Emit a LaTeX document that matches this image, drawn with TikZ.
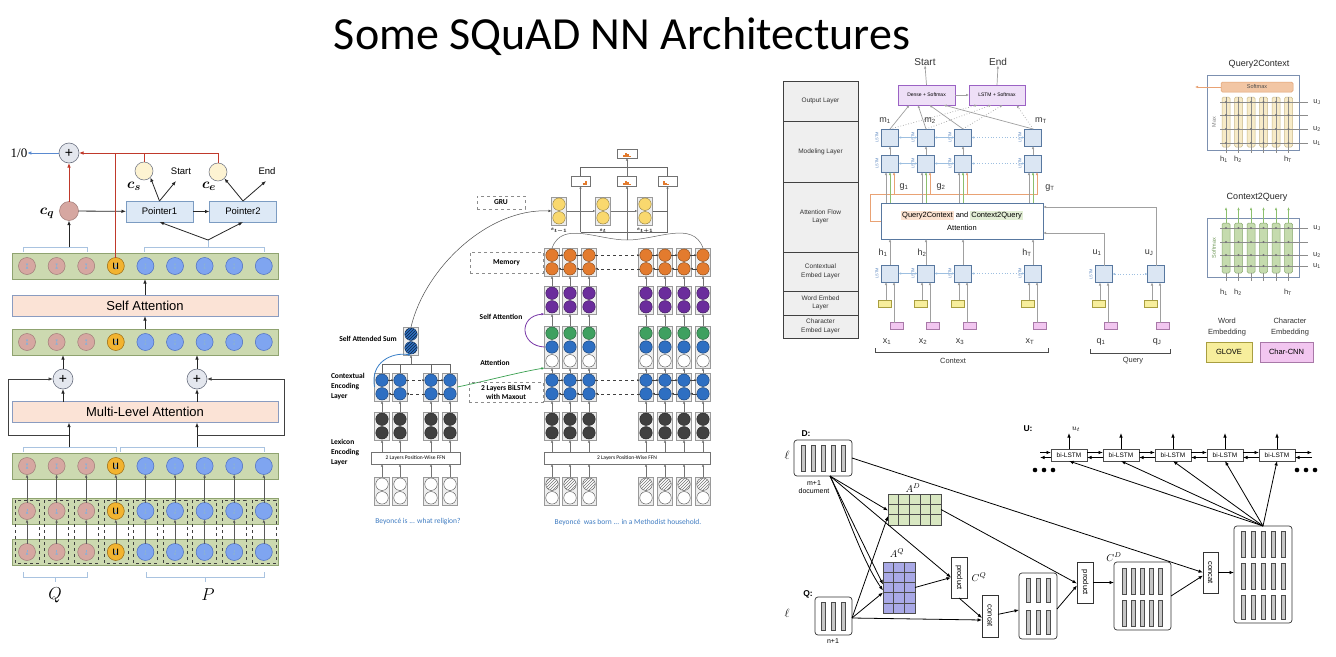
\documentclass[tikz,border=0pt]{standalone}
\usepackage{fontspec}
\usepackage{amsmath}
\usetikzlibrary{arrows.meta,patterns,calc}
\newfontfamily\arialf{Liberation Sans}
\newfontfamily\calibf{Carlito}
\newfontfamily\timesf{Liberation Serif}
\newcommand\fsz[2]{\fontsize{#1}{#2}\selectfont}

% pointer-network reader
\definecolor{stripfill}{HTML}{CCD9B0}
\definecolor{stripdraw}{HTML}{8FA370}
\definecolor{pinkc}{HTML}{D6A7A1}
\definecolor{pinkd}{HTML}{A07C78}
\definecolor{bluec}{HTML}{7FA5F0}
\definecolor{blued}{HTML}{4C6CC0}
\definecolor{uc}{HTML}{F2B32F}
\definecolor{ud}{HTML}{9A6A10}
\definecolor{peach}{HTML}{FBE3D6}
\definecolor{peachd}{HTML}{8A9CC0}
\definecolor{ptrfill}{HTML}{DDE9F6}
\definecolor{ptrdraw}{HTML}{7C9CC2}
\definecolor{redl}{HTML}{C0392B}
\definecolor{lblue}{HTML}{8AB0D8}
\definecolor{brk}{HTML}{A9C3E0}
\definecolor{cream}{HTML}{FDF3D2}
\definecolor{plusfill}{HTML}{E4E7EE}
\definecolor{plusdraw}{HTML}{6A7080}
\definecolor{outblue}{HTML}{5A8AD0}
% stochastic answer network
\definecolor{cellfill}{HTML}{EDEDED}
\definecolor{celldraw}{HTML}{9A9A9A}
\definecolor{sblue}{HTML}{2E6FC2}
\definecolor{sdark}{HTML}{404040}
\definecolor{sgreen}{HTML}{3FA060}
\definecolor{spurple}{HTML}{6B2D9C}
\definecolor{sorange}{HTML}{E37B2E}
\definecolor{syellow}{HTML}{F9D86E}
\definecolor{stext}{HTML}{3F7CC2}
\definecolor{scurveblue}{HTML}{3A80C8}
\definecolor{scurvegreen}{HTML}{3AA050}
\definecolor{scurvepurple}{HTML}{7A3AA8}
% bidirectional attention flow
\definecolor{layfill}{HTML}{EFEFEF}
\definecolor{lstmfill}{HTML}{DBE6F3}
\definecolor{lstmdraw}{HTML}{5878A0}
\definecolor{arrgray}{HTML}{A0A0A0}
\definecolor{bluearr}{HTML}{9DBFE0}
\definecolor{orangel}{HTML}{E9A274}
\definecolor{greenl}{HTML}{8CBF6E}
\definecolor{purfill}{HTML}{EEDFF7}
\definecolor{purdraw}{HTML}{9B62C4}
\definecolor{bluelab}{HTML}{5A86C0}
\definecolor{q2chl}{HTML}{FBE1CF}
\definecolor{c2qhl}{HTML}{E2EED5}
\definecolor{q2ccol}{HTML}{F7EBC8}
\definecolor{q2ccold}{HTML}{C8B888}
\definecolor{c2qcol}{HTML}{C5DBAE}
\definecolor{c2qcold}{HTML}{8AAA70}
\definecolor{qbord}{HTML}{7C90B0}
\definecolor{smxfill}{HTML}{F2C6A4}
\definecolor{smxdraw}{HTML}{E0A070}
\definecolor{glovefill}{HTML}{F7EE9C}
\definecolor{glovedraw}{HTML}{A89E40}
\definecolor{charfill}{HTML}{F2C6F0}
\definecolor{chardraw}{HTML}{A878A8}
% coattention encoder
\definecolor{adfill}{HTML}{D9E8C2}
\definecolor{aqfill}{HTML}{A9A9E6}

\newcommand\twocell[5]{%
  \node[cellbox=28pt] (#1) at (#2,#3+14) {};
  \node[#4] (#1a) at (#2,#3+7.2) {};
  \node[#5] (#1b) at (#2,#3+20.8) {};
}
\newcommand\threecell[6]{%
  \node[cellbox=42pt] (#1) at (#2,#3+21) {};
  \node[#4] (#1a) at (#2,#3+7.2) {};
  \node[#5] (#1b) at (#2,#3+21) {};
  \node[#6] (#1c) at (#2,#3+34.8) {};
}

\tikzset{
  every node/.style={inner sep=0pt, outer sep=0pt},
  % reader
  strip/.style={rectangle, minimum width=266pt, minimum height=26pt, fill=stripfill, draw=stripdraw, line width=0.6pt},
  tokp/.style={circle, minimum size=17pt, fill=pinkc, draw=pinkd, line width=0.5pt},
  tokb/.style={circle, minimum size=17pt, fill=bluec, draw=blued, line width=0.5pt},
  toku/.style={circle, minimum size=17pt, fill=uc, draw=ud, line width=0.5pt, font=\arialf\fsz{12}{12}},
  wide/.style={rectangle, minimum width=266pt, minimum height=21pt, fill=peach, draw=peachd, line width=0.6pt, font=\arialf\fsz{13}{14}},
  ptr/.style={rectangle, minimum width=67pt, minimum height=21pt, fill=ptrfill, draw=ptrdraw, line width=0.6pt, font=\arialf\fsz{9.5}{11}},
  plus/.style={circle, minimum size=20pt, fill=plusfill, draw=plusdraw, line width=0.6pt, font=\arialf\fsz{14}{14}},
  smallc/.style={circle, minimum size=18pt, fill=#1, draw=plusdraw, line width=0.5pt},
  darr/.style={-{Latex[length=4.5pt,width=3.5pt]}, line width=0.8pt, black!85},
  dlin/.style={-{Latex[length=4.5pt,width=3.5pt]}, line width=0.9pt, black!75},
  lbarr/.style={{Latex[length=2.5pt,width=2.6pt]}-{Latex[length=2.5pt,width=2.6pt]}, lblue, line width=0.7pt},
  lsarr/.style={-{Latex[length=2.5pt,width=2.6pt]}, lblue, line width=0.7pt},
  varr/.style={-{Latex[length=3pt,width=2.6pt]}, black!65, line width=0.6pt},
  brkl/.style={brk, line width=0.8pt},
  redw/.style={redl, line width=1pt},
  % answer network
  cellbox/.style={rectangle, minimum width=15pt, minimum height=#1, fill=cellfill, draw=celldraw, line width=0.4pt},
  sc/.style={circle, minimum size=12.5pt, fill=#1, draw=#1!55!black, line width=0.4pt},
  swc/.style={circle, minimum size=12.5pt, fill=white, draw=black!70, line width=0.4pt},
  shc/.style={swc, postaction={pattern=north east lines, pattern color=black!55}},
  shb/.style={sc=sblue, postaction={pattern=north east lines, pattern color=sblue!35!black}},
  sarr/.style={-{Latex[length=2.5pt,width=2.2pt]}, black!55, line width=0.45pt},
  sl/.style={black!60, line width=0.5pt},
  harr/.style={-{Latex[length=2.5pt,width=2.2pt]}, black!75, line width=0.6pt},
  dbox/.style={rectangle, draw=black!45, dashed, line width=0.5pt, font=\calibf\bfseries\fsz{7.5}{9}, align=center},
  ffn/.style={rectangle, minimum height=12pt, draw=black!55, fill=white, line width=0.5pt, font=\calibf\fsz{5.5}{6}},
  lab/.style={font=\calibf\bfseries\fsz{7.5}{10}},
  obox/.style={rectangle, minimum width=19pt, minimum height=10pt, draw=black!55, fill=white, line width=0.5pt},
  % attention flow
  laybox/.style={rectangle, minimum width=75pt, fill=layfill, draw=black!75, line width=0.8pt, font=\arialf\fsz{6.5}{8.5}, align=center, text=black!80},
  lbox/.style={rectangle, minimum size=17pt, fill=lstmfill, draw=lstmdraw, line width=0.7pt},
  wbox/.style={rectangle, minimum width=13pt, minimum height=7pt, fill=glovefill, draw=glovedraw, line width=0.5pt},
  cbox/.style={rectangle, minimum width=13pt, minimum height=7pt, fill=charfill, draw=chardraw, line width=0.5pt},
  garr/.style={-{Latex[length=3pt,width=2.6pt]}, arrgray, line width=0.7pt},
  gline/.style={arrgray, line width=0.7pt},
  bdarr/.style={{Latex[length=2.5pt,width=2.4pt]}-{Latex[length=2.5pt,width=2.4pt]}, bluearr, line width=0.8pt},
  orarr/.style={-{Latex[length=3pt,width=2.6pt]}, orangel, line width=0.7pt},
  grarr/.style={-{Latex[length=3pt,width=2.6pt]}, greenl, line width=0.7pt},
  outbox/.style={rectangle, minimum width=57pt, minimum height=20pt, fill=purfill, draw=purdraw, line width=0.8pt, font=\arialf\fsz{5}{6}},
  hl/.style={font=\arialf\fsz{9}{9}, text=black!80},
  lstmtag/.style={rotate=90, font=\arialf\fsz{4}{4}, text=bluelab},
  qcol/.style={rectangle, rounded corners=1.5pt, minimum width=8pt, minimum height=50pt, line width=0.5pt},
  qlab/.style={font=\arialf\fsz{7.5}{8}, text=black!80},
  % coattention
  rbox/.style={rectangle, rounded corners=3pt, draw=black!80, fill=white, line width=0.7pt},
  barst/.style={fill=gray!45, draw=black!70, line width=0.5pt},
  opbox/.style={rectangle, draw=black!80, fill=white, line width=0.6pt, minimum width=16pt},
  optext/.style={rotate=-90, font=\arialf\fsz{7.5}{8}},
  karr/.style={-{Latex[length=4.5pt,width=3.5pt]}, black, line width=0.8pt},
  bilstm/.style={rectangle, draw=black!70, fill=white, minimum width=36pt, minimum height=12pt, line width=0.6pt, font=\arialf\fsz{6.5}{7}},
}

\begin{document}
\begin{tikzpicture}[x=1pt,y=-1pt]
\useasboundingbox (0,0) rectangle (1336,656);
\fill[white] (0,0) rectangle (1336,656);

\node[font=\calibf\fsz{46}{50}] (title) at (622,37) {Some SQuAD NN Architectures};

% ================= pointer-network reader =================
\foreach \n/\yc in {1/266,2/342,3/466,4/511,5/552}
  \node[strip] (strip\n) at (145,\yc) {};
% dashed frames around each token across the two encoding strips
\foreach \i in {1,...,9}{
  \pgfmathsetmacro\xc{27+29.6*(\i-1)}
  \draw[dashed, line width=0.5pt, black!75] (\xc-12,500) rectangle (\xc+12,563);
}
\foreach \n/\yc in {1/266,2/342,3/466,4/511,5/552}{
  \foreach \i in {1,...,9}{
    \pgfmathsetmacro\xc{27+29.6*(\i-1)}
    \ifnum\i<4 \node[tokp] (c\n-\i) at (\xc,\yc) {};
    \else\ifnum\i=4 \node[toku] (c\n-\i) at (\xc,\yc) {u};
    \else \node[tokb] (c\n-\i) at (\xc,\yc) {};
    \fi\fi
  }
}
\foreach \n in {1,2,3}
  \foreach \i [evaluate=\i as \j using int(\i+1)] in {1,...,8}
    \draw[lbarr] (c\n-\i) -- (c\n-\j);
\foreach \n in {4,5}
  \foreach \i [evaluate=\i as \j using int(\i+1)] in {1,...,8}
    \draw[lsarr] (c\n-\i) -- (c\n-\j);
\foreach \i in {1,...,9}{
  \draw[varr] (c5-\i) -- (c4-\i);
  \draw[varr] (c4-\i) -- (c3-\i);
}

\node[wide] (mla) at (145,412) {Multi-Level Attention};
\node[wide] (sa) at (145,305.5) {Self Attention};
\node[plus] (plL) at (63,379) {+};
\node[plus] (plR) at (197,379) {+};

\draw[brkl] (23,452) -- (23,447) -- (116,447) -- (116,452);
\draw[brkl] (120,452) -- (120,447) -- (264,447) -- (264,452);
\coordinate (bkL) at (69,447);
\coordinate (bkR) at (197,447);
\draw[darr] (bkL) -- (bkL |- mla.south);
\draw[darr] (bkR) -- (bkR |- mla.south);
\draw[darr] (mla.north -| plL) -- (plL.south);
\draw[darr] (mla.north -| plR) -- (plR.south);
\draw[darr] (plL.north) -- (plL.north |- strip2.south);
\draw[darr] (plR.north) -- (plR.north |- strip2.south);
\coordinate (fbL) at (69,435);
\coordinate (fbR) at (197,435);
\draw[dlin] (fbL) -- (8,435) |- (plL.west);
\draw[dlin] (fbR) -- (284,435) |- (plR.east);
\draw[darr] (strip2.north) -- (sa.south);
\draw[darr] (sa.north) -- (strip1.south);

\draw[brkl] (23,252) -- (23,247) -- (87,247) -- (87,252);
\draw[brkl] (144,252) -- (144,247) -- (264,247) -- (264,252);
\coordinate (tbL) at (69,247);
\coordinate (tbR) at (208,240);
\draw[brkl] (208,247) -- (tbR);

\node[circle, minimum size=19pt, fill=pinkc, draw=pinkd, line width=0.5pt] (cq) at (69,211) {};
\node[font=\fsz{15}{15}] (cqlab) at (47,213) {$\boldsymbol{c_q}$};
\node[ptr] (p1) at (159.5,211.5) {Pointer1};
\node[ptr] (p2) at (243,211.5) {Pointer2};
\node[smallc=cream] (cscirc) at (144,171) {};
\node[smallc=cream] (cecirc) at (218,172) {};
\node[font=\fsz{15}{15}] (cslab) at (134,186) {$\boldsymbol{c_s}$};
\node[font=\fsz{15}{15}] (celab) at (209,186) {$\boldsymbol{c_e}$};
\node[font=\arialf\fsz{9.5}{10}] (stt) at (181,171) {Start};
\node[font=\arialf\fsz{9.5}{10}] (endl) at (267,171) {End};
\coordinate (sttp) at (176,181);
\coordinate (endp) at (266,181);
\draw[darr] (tbL) -- (cq.south);
\draw[darr] (tbR) -- (p1.south);
\draw[darr] (tbR) -- (p2.south);
\draw[darr] (cq) -- (p1);
\draw[darr] (p1) -- (p2);
\draw[darr] (p1.north) -- (cscirc.south east);
\draw[darr] (p1.north) -- (sttp);
\draw[darr] (p2.north) -- (cecirc.south east);
\draw[darr] (p2.north) -- (endp);

\node[plus] (plus) at (69,153) {+};
\node[font=\timesf\fsz{13}{13}] (onezero) at (19,153) {1/0};
\draw[-{Latex[length=4pt,width=3.5pt]}, outblue, line width=0.9pt] (plus.west) -- (onezero.east);
\draw[redw, -{Latex[length=4.5pt,width=3.5pt]}] (cq) -- (plus);
\draw[redw, -{Latex[length=4.5pt,width=3.5pt]}] (cecirc.north) |- (plus.east);
\draw[redw] (cscirc.north) -- (cscirc.north |- plus.east);
\draw[redw] (c1-4.north) -- (c1-4.north |- plus.east);

\draw[brkl] (23,572) -- (23,577) -- (87,577) -- (87,572);
\draw[brkl] (55,577) -- (55,582);
\draw[brkl] (146,572) -- (146,577) -- (264,577) -- (264,572);
\draw[brkl] (205,577) -- (205,582);
\node[font=\fsz{16}{16}] (qlabel) at (55,595) {$Q$};
\node[font=\fsz{16}{16}] (plabel) at (208,595) {$P$};

% ================= stochastic answer network =================
\foreach \k/\xx in {1/382,2/400,3/431,4/450}{
  \twocell{Lin\k}{\xx}{477}{swc}{swc}
  \twocell{Ldk\k}{\xx}{412}{sc=sdark}{sc=sdark}
  \twocell{Lbl\k}{\xx}{373}{sc=sblue}{sc=sblue}
}
\foreach \k/\xx in {1/552,2/570,3/589,4/646,5/665,6/684,7/703}{
  \twocell{Rin\k}{\xx}{477}{shc}{swc}
  \twocell{Rdk\k}{\xx}{412}{sc=sdark}{sc=sdark}
  \twocell{Rbl\k}{\xx}{373}{sc=sblue}{sc=sblue}
  \threecell{Rat\k}{\xx}{326}{sc=sgreen}{sc=sblue}{swc}
  \twocell{Rpu\k}{\xx}{286}{sc=spurple}{sc=spurple}
  \twocell{Ror\k}{\xx}{248}{sc=sorange}{sc=sorange}
}
\node[ffn, minimum width=89pt] (ffnL) at (415.5,458) {2 Layers Position-Wise FFN};
\node[ffn, minimum width=166pt] (ffnR) at (627,458) {2 Layers Position-Wise FFN};
\foreach \k in {1,...,4}{
  \draw[sarr] (Lin\k.north) -- (Lin\k.north |- ffnL.south);
  \draw[sarr] (Lin\k.north |- ffnL.north) -- (Ldk\k.south);
  \draw[sarr] (Ldk\k) -- (Lbl\k);
}
\foreach \k in {1,...,7}{
  \draw[sarr] (Rin\k.north) -- (Rin\k.north |- ffnR.south);
  \draw[sarr] (Rin\k.north |- ffnR.north) -- (Rdk\k.south);
  \draw[sarr] (Rdk\k) -- (Rbl\k);
  \draw[sarr] (Rbl\k) -- (Rat\k);
  \draw[sarr] (Rat\k) -- (Rpu\k);
  \draw[sarr] (Rpu\k) -- (Ror\k);
}
\foreach \p/\q/\st in {1/2/solid,2/3/dashed,3/4/solid}{
  \draw[harr,\st] (Lbl\p a) -- (Lbl\q a);
  \draw[harr,\st] (Lbl\q b) -- (Lbl\p b);
}
\foreach \p/\q/\st in {1/2/solid,2/3/solid,3/4/dashed,4/5/solid,5/6/solid,6/7/solid}{
  \draw[harr,\st] (Rbl\p a) -- (Rbl\q a);
  \draw[harr,\st] (Rbl\q b) -- (Rbl\p b);
  \draw[harr,\st] (Ror\p a) -- (Ror\q a);
  \draw[harr,\st] (Ror\q b) -- (Ror\p b);
}

% self attended sum over the question
\twocell{sas}{411}{327}{shb}{shb}
\coordinate (sasj) at (411,364);
\draw[sl] (Lbl1.north) |- (sasj);
\draw[sl] (Lbl4.north) |- (sasj);
\draw[sl] (Lbl2.north) -- (Lbl2.north |- sasj);
\draw[sl] (Lbl3.north) -- (Lbl3.north |- sasj);
\draw[sarr] (sasj) -- (sas.south);
\draw[-{Latex[length=3pt,width=2.6pt]}, scurveblue, line width=0.8pt] (Lbl1.west) .. controls (370,362) and (392,352) .. (sas.south);
\draw[-{Latex[length=3pt,width=2.6pt]}, scurvegreen, line width=0.7pt] (Lbl4.east) .. controls (490,380) and (520,372) .. (Rat1.south west);
\draw[-{Latex[length=3pt,width=2.6pt]}, scurvepurple, line width=0.8pt] (Rat1.west) .. controls (520,346) and (518,316) .. (Rpu1.south west);

% GRU answer module
\twocell{gru1}{559}{197}{sc=syellow}{sc=syellow}
\twocell{gru2}{603}{197}{sc=syellow}{sc=syellow}
\twocell{gru3}{645}{197}{sc=syellow}{sc=syellow}
\node[font=\fsz{5.5}{6}] (st1) at (559,231) {$\boldsymbol{s_{t-1}}$};
\node[font=\fsz{5.5}{6}] (st2) at (603,231) {$\boldsymbol{s_{t}}$};
\node[font=\fsz{5.5}{6}] (st3) at (645,231) {$\boldsymbol{s_{t+1}}$};
\node[obox] (o1) at (580.5,181) {};
\node[obox] (o2) at (627,181) {};
\node[obox] (o3) at (667.5,181) {};
\node[obox, minimum width=20pt, minimum height=9pt] (ot) at (627,153.5) {};
\foreach \dx/\h in {2/2,4/4} \fill[sorange] ($(o1.south)+(\dx,-1)$) rectangle +(2,-\h);
\foreach \dx/\h in {-4/2,-2/4,0/3,2/1} \fill[sorange] ($(o2.south)+(\dx,-1)$) rectangle +(2,-\h);
\foreach \dx/\h in {-5/4,-3/2,-1/1} \fill[sorange] ($(o3.south)+(\dx,-1)$) rectangle +(2,-\h);
\foreach \dx/\h in {-4/2,-2/4,0/3,2/1} \fill[sorange] ($(ot.south)+(\dx,-1)$) rectangle +(2,-\h);
\coordinate (hbR) at (667.5,167);
\coordinate (lbL) at (580.5,232);
\coordinate (lbR) at (667.5,232);
\coordinate (brpk) at (627,240);
\draw[sl] (o1.north) |- (hbR) -- (o3.north);
\draw[sarr] (o2.north) -- (ot.south);
\draw[sl] (lbL) -- (lbR);
\draw[sarr] (lbL) -- (o1.south);
\draw[sarr] (lbR) -- (o3.south);
\draw[sarr] (brpk) -- (o2.south);
\draw[sarr] (gru1) -- (gru2);
\draw[sarr] (gru2) -- (gru3);
\draw[sl] (gru3.east) -- (gru3.east -| hbR);
\draw[sl] (Ror1.north) to[out=70,in=180] (brpk) to[out=0,in=110] (Ror7.north);
\draw[-{Latex[length=3pt,width=2.6pt]}, black!70, line width=0.5pt] (sas.north) .. controls (425,268) and (488,208) .. (gru1.west);

\node[dbox, minimum width=48pt, minimum height=13pt] (grubox) at (501,202.5) {GRU};
\node[dbox, minimum width=73pt, minimum height=21pt] (membox) at (506.5,262.5) {Memory};
\node[dbox, minimum width=74pt, minimum height=20pt] (lstmbox) at (506,392) {2 Layers BiLSTM\\with Maxout};
\node[lab] (lsas) at (368,339) {Self Attended Sum};
\node[lab, align=left, anchor=north west] (lctx) at (331,373) {Contextual\\Encoding\\Layer};
\node[lab, align=left, anchor=north west] (llex) at (331,439) {Lexicon\\Encoding\\Layer};
\node[lab] (latt) at (495,363) {Attention};
\node[lab] (lsat) at (501,317) {Self Attention};
\node[font=\calibf\fsz{7.5}{8}, text=stext] (sentq) at (418,522) {Beyoncé is ... what religion?};
\node[font=\calibf\fsz{7.5}{8}, text=stext] (sentp) at (628,522) {Beyoncé~~was born ... in a Methodist household.};

% ================= bidirectional attention flow =================
\foreach \nm/\ya/\yb/\txt in {lo/81/121/{Output Layer}, lm/121/182/{Modeling Layer}, la/182/252/{Attention Flow\\Layer}, lc/252/291/{Contextual\\Embed Layer}, lw/291/315/{Word Embed\\Layer}, lch/315/338/{Character\\Embed Layer}}
  \node[laybox, minimum height={(\yb-\ya)*1pt}] (\nm) at (820.5,{(\ya+\yb)/2}) {\txt};

\node[outbox] (dense) at (926.5,95) {Dense + Softmax};
\node[outbox, minimum width=56pt] (lsm) at (997,95) {LSTM + Softmax};
\node[font=\arialf\fsz{10}{10}, text=black!80] (start3) at (925,62) {Start};
\node[font=\arialf\fsz{10}{10}, text=black!80] (end3) at (998,62) {End};
\draw[garr] (dense.north) -- (start3.south);
\draw[garr] (lsm.north) -- (end3.south);
\draw[garr] (dense) -- (lsm);

\node[rectangle, minimum width=162pt, minimum height=36pt, fill=white, draw=lstmdraw, line width=0.8pt, align=center, font=\arialf\fsz{7.5}{13}] (att) at (962,221)
  {\setlength{\fboxsep}{1pt}\colorbox{q2chl}{Query2Context} and \colorbox{c2qhl}{Context2Query}\\Attention};

\draw[orangel, line width=0.7pt] (att.west) -| (870,194) -- (1038,194);
\coordinate (orR) at (1038,194);
\foreach \k/\cx/\fa/\fb in {1/890/0.2/0.15, 2/926/0.35/0.4, 3/963/0.55/0.6, 4/1033/0.8/0.85}{
  \node[lbox] (bdmu\k) at (\cx,137.5) {};
  \node[lbox] (bdml\k) at (\cx,163.5) {};
  \node[lbox] (bdce\k) at (\cx,273.5) {};
  \node[wbox] (bdwe\k) at (\cx-5,303.5) {};
  \node[cbox] (bdch\k) at (\cx+7,326) {};
  \node[lstmtag] at (\cx-13,137.5) {LSTM};
  \node[lstmtag] at (\cx-13,163.5) {LSTM};
  \node[lstmtag] at (\cx-13,273.5) {LSTM};
  \coordinate (wy\k) at ($(bdwe\k.north)+(1,0)$);
  \coordinate (cy\k) at ($(bdch\k.north)+(-3,0)$);
  \draw[garr] (wy\k) -- (wy\k |- bdce\k.south);
  \draw[garr] (cy\k) -- (cy\k |- bdce\k.south);
  \draw[garr] (bdce\k.north) -- (bdce\k.north |- att.south);
  \coordinate (gy\k) at ($(bdml\k.south)+(-4,0)$);
  \coordinate (oy\k) at ($(bdml\k.south)+(4,0)$);
  \draw[garr] (gy\k |- att.north) -- (gy\k);
  \draw[grarr] (bdml\k.south |- att.north) -- (bdml\k.south);
  \draw[orarr] (oy\k |- orR) -- (oy\k);
  \draw[garr] (bdml\k) -- (bdmu\k);
  \draw[garr] (bdmu\k.north) -- ($(dense.south west)!\fa!(dense.south east)$);
  \draw[garr, dotted] (bdmu\k.north) -- ($(lsm.south west)!\fb!(lsm.south east)$);
}
\foreach \r in {bdmu,bdml,bdce}{
  \draw[bdarr] (\r1) -- (\r2);
  \draw[bdarr] (\r2) -- (\r3);
  \draw[bdarr, dotted] (\r3) -- (\r4);
}
\node[hl] at (885,121) {m\textsubscript{1}};
\node[hl] at (930,121) {m\textsubscript{2}};
\node[hl] at (1041,121) {m\textsubscript{T}};
\node[hl] at (904,187) {g\textsubscript{1}};
\node[hl] at (941,187) {g\textsubscript{2}};
\node[hl] at (1050,188) {g\textsubscript{T}};
\node[hl] at (883,253) {h\textsubscript{1}};
\node[hl] at (922,253) {h\textsubscript{2}};
\node[hl] at (1027,253) {h\textsubscript{T}};
\node[hl] at (887,342) {x\textsubscript{1}};
\node[hl] at (923,342) {x\textsubscript{2}};
\node[hl] at (960,342) {x\textsubscript{3}};
\node[hl] at (1030,342) {x\textsubscript{T}};

\foreach \k/\cx in {1/1104,2/1156}{
  \node[lbox] (qc\k) at (\cx,274) {};
  \node[wbox] (qw\k) at (\cx-5,303.5) {};
  \node[cbox] (qh\k) at (\cx+7,326) {};
  \coordinate (qwy\k) at ($(qw\k.north)+(1,0)$);
  \coordinate (qcy\k) at ($(qh\k.north)+(-3,0)$);
  \draw[garr] (qwy\k) -- (qwy\k |- qc\k.south);
  \draw[garr] (qcy\k) -- (qcy\k |- qc\k.south);
}
\node[lstmtag] at (1091,274) {LSTM};
\draw[bdarr, dotted] (qc1) -- (qc2);
\draw[garr] (qc1.north) |- ($(att.east)+(0,12)$);
\draw[garr] (qc2.north) |- ($(att.east)+(0,-14)$);
\node[hl] at (1097,253) {u\textsubscript{1}};
\node[hl] at (1149,253) {u\textsubscript{J}};
\node[hl] at (1101,342) {q\textsubscript{1}};
\node[hl] at (1157,342) {q\textsubscript{J}};

\draw[black!70, line width=0.7pt] (875,348) -- (875,352) -- (1048,352) -- (1048,348);
\draw[black!70, line width=0.7pt] (1090,349) -- (1090,353) -- (1170,353) -- (1170,349);
\node[qlab] (ctxl) at (953,361) {Context};
\node[qlab] (qryl) at (1133,361) {Query};

% Query2Context detail
\node[font=\arialf\fsz{9}{9}, text=black!85] (q2ct) at (1259,64) {Query2Context};
\node[rectangle, minimum width=92pt, minimum height=75pt, draw=qbord, line width=0.8pt] (q2c) at (1253,112.5) {};
\foreach \k/\xx in {1/1226,2/1238.5,3/1251,4/1263.5,5/1276,6/1288.5}
  \node[qcol, fill=q2ccol, draw=q2ccold] (qa\k) at (\xx,122) {};
\foreach \yy in {102,115,129,143} \draw[black!45, line width=0.5pt] (1220,\yy) -- (1308,\yy);
\foreach \xx in {1226,1238.5,1251,1263.5,1276,1288.5}{
  \draw[black!45, line width=0.5pt] (\xx,97) -- (\xx,153);
  \foreach \yy in {102,115,129,143} \fill[black!55] (\xx,\yy) circle (1.2pt);
}
\node[rectangle, rounded corners=1.5pt, minimum width=72pt, minimum height=10pt, fill=smxfill, draw=smxdraw, line width=0.5pt, font=\arialf\fsz{5.5}{6}, text=black!70] (smx) at (1257,87) {Softmax};
\coordinate (smxo) at (1195,87);
\draw[-{Latex[length=3pt,width=2.6pt]}, orangel, line width=0.7pt] (smx.west) -- (smxo);
\node[rotate=90, font=\arialf\fsz{5.5}{6}, text=black!50] at (1214,122) {Max};
\node[qlab] at (1317,102) {u\textsubscript{J}};
\node[qlab] at (1317,129) {u\textsubscript{2}};
\node[qlab] at (1317,143) {u\textsubscript{1}};
\node[qlab] at (1224,159) {h\textsubscript{1}};
\node[qlab] at (1238,159) {h\textsubscript{2}};
\node[qlab] at (1288,159) {h\textsubscript{T}};

% Context2Query detail
\node[font=\arialf\fsz{9}{9}, text=black!85] (c2qt) at (1257,197) {Context2Query};
\node[rectangle, minimum width=92pt, minimum height=59pt, draw=qbord, line width=0.8pt] (c2q) at (1253,247.5) {};
\foreach \k/\xx in {1/1226,2/1238.5,3/1251,4/1263.5,5/1276,6/1288.5}{
  \node[qcol, fill=c2qcol, draw=c2qcold] (qb\k) at (\xx,248) {};
  \draw[-{Latex[length=3pt,width=2.4pt]}, greenl, line width=0.6pt] (qb\k.north) -- ++(0,-16);
}
\foreach \yy in {228,242,255,266} \draw[black!45, line width=0.5pt] (1220,\yy) -- (1308,\yy);
\foreach \xx in {1226,1238.5,1251,1263.5,1276,1288.5}{
  \draw[black!45, line width=0.5pt] (\xx,273) -- (\xx,281);
  \foreach \yy in {228,242,255,266} \fill[black!55] (\xx,\yy) circle (1.2pt);
}
\node[rotate=90, font=\arialf\fsz{5.5}{6}, text=greenl!80!black] at (1214,248) {Softmax};
\node[qlab] at (1317,228) {u\textsubscript{J}};
\node[qlab] at (1317,255) {u\textsubscript{2}};
\node[qlab] at (1317,266) {u\textsubscript{1}};
\node[qlab] at (1224,292) {h\textsubscript{1}};
\node[qlab] at (1238,292) {h\textsubscript{2}};
\node[qlab] at (1288,292) {h\textsubscript{T}};

\node[qlab, align=center, font=\arialf\fsz{7.5}{11}] (wel) at (1227,327) {Word\\Embedding};
\node[qlab, align=center, font=\arialf\fsz{7.5}{11}] (cel) at (1290,327) {Character\\Embedding};
\node[rectangle, minimum width=46pt, minimum height=20pt, fill=glovefill, draw=glovedraw, line width=0.7pt, font=\arialf\fsz{7.5}{8}] (glove) at (1229,352) {GLOVE};
\node[rectangle, minimum width=53pt, minimum height=20pt, fill=charfill, draw=chardraw, line width=0.7pt, font=\arialf\fsz{7.5}{8}] (charcnn) at (1286.5,352) {Char-CNN};

% ================= coattention encoder =================
\node[rbox, minimum width=58pt, minimum height=36pt] (D) at (823,458) {};
\foreach \i in {0,...,4} \draw[barst] (801+10*\i,445) rectangle +(4,26);
\node[rbox, minimum width=37pt, minimum height=38pt] (Q) at (833.5,616) {};
\foreach \i in {0,1,2} \draw[barst] (821.5+10*\i,602) rectangle +(4,28);
\node[font=\arialf\bfseries\fsz{8.5}{9}] at (806,434) {D:};
\node[font=\arialf\bfseries\fsz{8.5}{9}] at (808,594) {Q:};
\node[font=\fsz{12}{12}] at (787,455) {$\ell$};
\node[font=\fsz{12}{12}] at (787,613) {$\ell$};
\node[font=\arialf\fsz{7}{8}, align=center] at (814,487) {m+1\\document};
\node[font=\arialf\fsz{7}{8}] at (833,641) {n+1};

\node[rectangle, minimum width=53pt, minimum height=31pt, fill=adfill, draw=black!70, line width=0.6pt] (AD) at (914.5,509.5) {};
\foreach \i in {1,...,4} \draw[black!70, line width=0.5pt] ($(AD.north west)!\i/5!(AD.north east)$) -- ($(AD.south west)!\i/5!(AD.south east)$);
\foreach \i in {1,2} \draw[black!70, line width=0.5pt] ($(AD.north west)!\i/3!(AD.south west)$) -- ($(AD.north east)!\i/3!(AD.south east)$);
\node[rectangle, minimum width=32pt, minimum height=51pt, fill=aqfill, draw=black!70, line width=0.6pt] (AQ) at (899,587.5) {};
\foreach \i in {1,2} \draw[black!70, line width=0.5pt] ($(AQ.north west)!\i/3!(AQ.north east)$) -- ($(AQ.south west)!\i/3!(AQ.south east)$);
\foreach \i in {1,...,4} \draw[black!70, line width=0.5pt] ($(AQ.north west)!\i/5!(AQ.south west)$) -- ($(AQ.north east)!\i/5!(AQ.south east)$);
\node[font=\fsz{10}{10}] at (913,488) {$A^D$};
\node[font=\fsz{10}{10}] at (897,553) {$A^Q$};

\node[opbox, minimum height=41pt] (prod1) at (959,577.5) {};
\node[optext] at (prod1) {product};
\node[opbox, minimum height=42pt] (cat1) at (990,616) {};
\node[optext] at (cat1) {concat};
\node[font=\fsz{10}{10}] at (979,577) {$C^Q$};
\node[rbox, minimum width=38pt, minimum height=66pt] (mid) at (1038,606) {};
\foreach \i in {0,1,2}{
  \draw[barst] (1026+10*\i,578) rectangle +(4,24);
  \draw[barst] (1026+10*\i,610) rectangle +(4,24);
}
\node[opbox, minimum height=41pt] (prod2) at (1085,582.5) {};
\node[optext] at (prod2) {product};
\node[rbox, minimum width=57pt, minimum height=68pt] (CD) at (1142.5,596) {};
\foreach \i in {0,...,4}{
  \draw[barst] (1122.5+9*\i,568) rectangle +(4,26);
  \draw[barst] (1122.5+9*\i,600) rectangle +(4,26);
}
\node[font=\fsz{10}{10}] at (1114,557) {$C^D$};
\node[opbox, minimum width=15pt, minimum height=41pt] (cat2) at (1210.5,572.5) {};
\node[optext] at (cat2) {concat};
\node[rbox, minimum width=58pt, minimum height=97pt] (big) at (1263,574.5) {};
\foreach \i in {0,...,4}{
  \draw[barst] (1241+10*\i,531) rectangle +(4,26);
  \draw[barst] (1241+10*\i,563) rectangle +(4,26);
  \draw[barst] (1241+10*\i,595) rectangle +(4,24);
}

\coordinate (dout) at (830,476);
\coordinate (qout) at (852,618);
\draw[karr] (dout) -- ($(AD.west)+(0,1)$);
\draw[karr] (dout) -- (prod1.west);
\draw[karr] (dout) -- ($(AQ.west)+(0,-3)$);
\draw[karr] (dout) .. controls (850,520) and (862,560) .. ($(AQ.west)+(0,3)$);
\draw[karr] (D.east) -- (cat2.west);
\draw[karr] (qout) -- ($(AD.south west)+(0,-9)$);
\draw[karr] (qout) -- ($(AQ.west)+(0,5)$);
\draw[karr] (qout) -- ($(cat1.west)+(0,4)$);
\draw[karr] (AQ.east) -- (prod1.west);
\draw[karr] (prod1.south) -- ($(cat1.west)+(0,2)$);
\draw[karr] (cat1) -- (mid);
\draw[karr] (AD.east) -- ($(prod2.west)+(0,1)$);
\draw[karr] ($(mid.east)+(0,3)$) -- ($(prod2.west)+(0,3)$);
\draw[karr] (prod2) -- (prod2 -| CD.west);
\draw[karr] (CD.east) -- ($(cat2.west)+(0,3)$);
\draw[karr] (cat2) -- (cat2 -| big.west);

\node[font=\arialf\bfseries\fsz{8.5}{9}] at (1028,429) {U:};
\foreach \k/\xx in {1/1069,2/1121,3/1173,4/1225,5/1277}{
  \node[bilstm] (bls\k) at (\xx,455) {bi-LSTM};
  \draw[karr] (bls\k.north) -- ++(0,-16);
  \draw[karr] (big.north) -- (bls\k.south);
}
\node[font=\fsz{8}{8}] at (1076,429) {$u_t$};
\foreach \p/\q in {1/2,2/3,3/4,4/5}{
  \draw[karr] ([yshift=2.5pt]bls\p.east) -- ([yshift=2.5pt]bls\q.west);
  \draw[karr] ([yshift=-2.5pt]bls\q.west) -- ([yshift=-2.5pt]bls\p.east);
}
\coordinate (bllf) at (1040,455);
\coordinate (blrt) at (1312,455);
\draw[karr] ([yshift=2.5pt]bllf) -- ([yshift=2.5pt]bls1.west);
\draw[karr] ([yshift=-2.5pt]bls1.west) -- ([yshift=-2.5pt]bllf);
\draw[karr] ([yshift=2.5pt]bls5.east) -- ([yshift=2.5pt]blrt);
\draw[karr] ([yshift=-2.5pt]blrt) -- ([yshift=-2.5pt]bls5.east);
\foreach \xx in {1035,1044,1053,1297,1306,1315} \fill (\xx,470) circle (2.3pt);

\end{tikzpicture}
\end{document}
